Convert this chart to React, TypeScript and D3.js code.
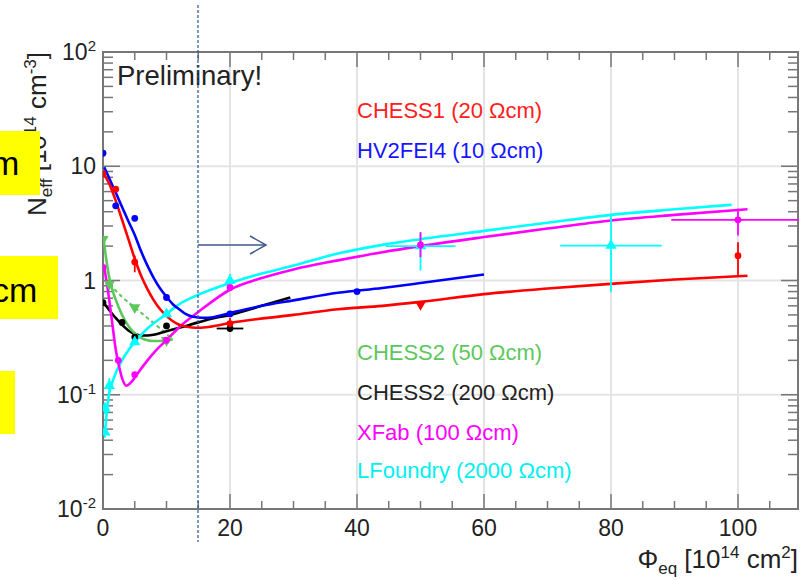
import React from 'react';
import * as d3 from 'd3';

type P = [number, number];
type Pt = { x: number; y: number; lo?: number; hi?: number; xe?: number; m?: string };

// ---------- data ----------
const xTickValues = [0, 20, 40, 60, 80, 100];
const yTickExps = [-2, -1, 0, 1, 2];
const legendLabels = [
  'CHESS1 (20 Ωcm)',
  'HV2FEI4 (10 Ωcm)',
  'CHESS2 (50 Ωcm)',
  'CHESS2 (200 Ωcm)',
  'XFab (100 Ωcm)',
  'LFoundry (2000 Ωcm)',
];
const boxLabels = ['m', 'cm', ''];

const redFit: P[] = [
  [0, 8.8], [1, 7.0], [2, 5.0], [3, 3.4], [4, 2.3], [5, 1.55], [6, 1.1], [7, 0.84], [8, 0.67],
  [9, 0.56], [10, 0.49], [11, 0.44], [12, 0.41], [13, 0.395], [14, 0.388], [15, 0.386],
  [17, 0.395], [20, 0.425], [30, 0.5], [37, 0.56], [44, 0.6], [50, 0.65], [60, 0.76],
  [70, 0.85], [80, 0.935], [90, 1.02], [101.5, 1.1],
];
const blueFit: P[] = [
  [0.2, 9.8], [1, 7.8], [2, 5.9], [3, 4.4], [4, 3.3], [5, 2.5], [6, 1.8], [7, 1.35], [8, 1.05],
  [9, 0.85], [10, 0.72], [11, 0.62], [12, 0.56], [13, 0.51], [14, 0.485], [15, 0.475],
  [16, 0.472], [17, 0.475], [20, 0.52], [25, 0.6], [30, 0.67], [37, 0.78], [44, 0.86],
  [50, 0.95], [60, 1.13],
];
const greenFit: P[] = [
  [0.1, 2.3], [0.5, 1.55], [1, 1.05], [1.5, 0.82], [2, 0.68], [3, 0.5], [4, 0.4], [5, 0.345],
  [6, 0.315], [7, 0.3], [8, 0.295], [9, 0.295], [10, 0.3], [11, 0.305],
];
const greenDash: P[] = [
  [1, 0.93], [3, 0.72], [5, 0.58], [7, 0.47], [9, 0.38], [10.8, 0.31],
];
const blackFit: P[] = [
  [0, 0.65], [1, 0.55], [2, 0.47], [3, 0.41], [4, 0.365], [5, 0.34], [6, 0.33], [7, 0.33],
  [8, 0.335], [10, 0.36], [12, 0.385], [15, 0.43], [17.6, 0.47], [20, 0.5], [25, 0.6], [29.5, 0.71],
];
const magentaFit: P[] = [
  [0.2, 1.3], [0.8, 0.8], [1.4, 0.45], [2, 0.25], [2.5, 0.18], [3, 0.14], [3.7, 0.12],
  [4.5, 0.13], [5.5, 0.155], [7, 0.2], [8.5, 0.25], [10, 0.3], [12, 0.39], [15, 0.53],
  [20, 0.83], [25, 1.05], [30, 1.25], [37, 1.5], [44, 1.77], [50, 2.0], [60, 2.4], [70, 2.85],
  [80, 3.35], [90, 3.75], [101.5, 4.2],
];
const cyanFit: P[] = [
  [0.3, 0.045], [0.6, 0.07], [1, 0.105], [1.5, 0.13], [2, 0.155], [3, 0.2], [4, 0.245],
  [5, 0.29], [7, 0.38], [10, 0.51], [12, 0.62], [15, 0.75], [20, 0.95], [25, 1.15],
  [30, 1.35], [37, 1.72], [44, 2.05], [50, 2.3], [60, 2.72], [70, 3.2], [80, 3.75],
  [90, 4.2], [99, 4.6],
];

const redPts: Pt[] = [
  { x: 0, y: 8.6 }, { x: 2, y: 6.3 }, { x: 5, y: 1.45, lo: 1.18, hi: 1.65 },
  { x: 20, y: 0.42, lo: 0.39, hi: 0.47 }, { x: 50, y: 0.62, m: 'tdown' },
  { x: 100, y: 1.65, lo: 1.1, hi: 2.16 },
];
const bluePts: Pt[] = [
  { x: 0, y: 13 }, { x: 2, y: 4.5 }, { x: 5, y: 3.5 }, { x: 10, y: 0.71 },
  { x: 20, y: 0.51 }, { x: 40, y: 0.8 },
];
const greenPts: Pt[] = [
  { x: 0, y: 2.3 }, { x: 1, y: 0.93 }, { x: 5, y: 0.58 }, { x: 10, y: 0.3 },
];
const blackPts: Pt[] = [
  { x: 0, y: 0.64 }, { x: 3, y: 0.43 }, { x: 5, y: 0.32 }, { x: 10, y: 0.4 },
  { x: 20, y: 0.38, xe: 2.1, lo: 0.36, hi: 0.4 },
];
const magentaPts: Pt[] = [
  { x: 0, y: 1.3 }, { x: 2.4, y: 0.2 }, { x: 5, y: 0.15 }, { x: 10, y: 0.3 },
  { x: 20, y: 0.87 }, { x: 50, y: 2.05, lo: 1.6, hi: 2.65 },
  { x: 100, y: 3.4, lo: 2.48, hi: 4.25, xe: 10.5 },
];
const cyanPts: Pt[] = [
  { x: 0.3, y: 0.047, lo: 0.042, hi: 0.053 }, { x: 0.3, y: 0.076, lo: 0.068, hi: 0.085 },
  { x: 1, y: 0.12, lo: 0.105, hi: 0.14 }, { x: 5, y: 0.29 }, { x: 10, y: 0.51 },
  { x: 20, y: 1.0, lo: 0.87, hi: 1.14 }, { x: 50, y: 2.0, lo: 1.22, hi: 2.6, xe: 5.5 },
  { x: 80, y: 2.02, lo: 0.79, hi: 3.83, xe: 8 },
];

// ---------- layout ----------
const W = 804, H = 580;
const L = 103, R = 798, T = 52, B = 509;
const FONT = '"Liberation Sans", Arial, Helvetica, sans-serif';
const legendX = 357;
const legendY = [118, 158, 360, 400, 440, 478];

const series = [
  { color: '#000000', fit: blackFit, pts: blackPts, marker: 'circle' },
  { color: '#5cc85c', fit: greenFit, pts: greenPts, marker: 'tdown' },
  { color: '#00ffff', fit: cyanFit, pts: cyanPts, marker: 'tup' },
  { color: '#ff00ff', fit: magentaFit, pts: magentaPts, marker: 'circle' },
  { color: '#0000ff', fit: blueFit, pts: bluePts, marker: 'circle' },
  { color: '#ff0000', fit: redFit, pts: redPts, marker: 'circle' },
];
const legendColors = ['#ff2020', '#1515ff', '#5cc85c', '#222222', '#ff00ff', '#00f0f0'];

export default function App() {
  const x = d3.scaleLinear().domain([0, 109.45]).range([L, R]);
  const y = d3.scaleLog().domain([0.01, 100]).range([B, T]);
  const line = d3
    .line<P>()
    .x((d) => x(d[0]))
    .y((d) => y(d[1]))
    .curve(d3.curveMonotoneX);

  const xMinor = d3.range(0, 110, 5);
  const yMinor: number[] = [];
  for (let e = -2; e < 2; e++) for (let k = 1; k < 10; k++) yMinor.push(k * Math.pow(10, e));
  yMinor.push(100);

  const tri = d3.symbol(d3.symbolTriangle, 55)() as string;

  const marker = (p: Pt, kind: string, color: string, key: string) => {
    const cx = x(p.x), cy = y(p.y);
    const k = p.m || kind;
    const els: React.ReactNode[] = [];
    if (p.xe) {
      els.push(<line key={key + 'xe'} x1={x(p.x - p.xe)} x2={x(p.x + p.xe)} y1={cy} y2={cy} stroke={color} strokeWidth={1.8} />);
    }
    if (p.lo !== undefined && p.hi !== undefined) {
      els.push(<line key={key + 'ye'} x1={cx} x2={cx} y1={y(p.lo)} y2={y(p.hi)} stroke={color} strokeWidth={1.8} />);
    }
    if (k === 'circle') {
      els.push(<circle key={key + 'c'} cx={cx} cy={cy} r={3.4} fill={color} />);
    } else if (k === 'tdown') {
      els.push(<path key={key + 't'} d={tri} transform={`translate(${cx},${cy}) rotate(180)`} fill={color} />);
    } else {
      els.push(<path key={key + 't'} d={tri} transform={`translate(${cx},${cy})`} fill={color} />);
    }
    return els;
  };

  const yLabel = (e: number) => {
    if (e === 0) return <tspan>1</tspan>;
    if (e === 1) return <tspan>10</tspan>;
    return (
      <>
        <tspan>10</tspan>
        <tspan dy={-9} fontSize={15}>{e < 0 ? '-' + Math.abs(e) : String(e)}</tspan>
      </>
    );
  };

  return (
    <svg width={W} height={H} style={{ position: 'absolute', left: 0, top: 0, background: '#fff' }} fontFamily={FONT}>
      <defs>
        <clipPath id="plot">
          <rect x={L} y={T} width={R - L} height={B - T} />
        </clipPath>
      </defs>
      <rect x={0} y={0} width={W} height={H} fill="#fff" />

      {/* grid */}
      {xTickValues.filter((v) => v > 0).map((v) => (
        <line key={'gx' + v} x1={x(v)} x2={x(v)} y1={T} y2={B} stroke="#e4e4e4" strokeWidth={2} />
      ))}
      {[0.1, 1, 10].map((v) => (
        <line key={'gy' + v} x1={L} x2={R} y1={y(v)} y2={y(v)} stroke="#e4e4e4" strokeWidth={2} />
      ))}

      {/* frame */}
      <rect x={L} y={T} width={R - L} height={B - T} fill="none" stroke="#777" strokeWidth={2} />

      {/* x ticks */}
      {xMinor.map((v) => {
        const len = v % 20 === 0 ? 15 : 8;
        return (
          <g key={'xt' + v}>
            <line x1={x(v)} x2={x(v)} y1={B} y2={B - len} stroke="#777" strokeWidth={1.5} />
            <line x1={x(v)} x2={x(v)} y1={T} y2={T + len} stroke="#777" strokeWidth={1.5} />
          </g>
        );
      })}
      {/* y ticks */}
      {yMinor.map((v, i) => {
        const major = Math.abs(Math.log10(v) - Math.round(Math.log10(v))) < 1e-9;
        const len = major ? 17 : 10;
        return (
          <g key={'yt' + i}>
            <line x1={L} x2={L + len} y1={y(v)} y2={y(v)} stroke="#777" strokeWidth={1.5} />
            <line x1={R} x2={R - len} y1={y(v)} y2={y(v)} stroke="#777" strokeWidth={1.5} />
          </g>
        );
      })}

      {/* tick labels */}
      {xTickValues.map((v) => (
        <text key={'xl' + v} x={x(v)} y={536} textAnchor="middle" fontSize={23} fill="#222">{v}</text>
      ))}
      {yTickExps.map((e) => (
        <text key={'yl' + e} x={96} y={y(Math.pow(10, e)) + 8} textAnchor="end" fontSize={23} fill="#222">
          {yLabel(e)}
        </text>
      ))}

      {/* axis titles */}
      <text x={798} y={568} textAnchor="end" fontSize={26} fill="#222">
        <tspan>Φ</tspan>
        <tspan dy={6} fontSize={17}>eq</tspan>
        <tspan dy={-6}> [10</tspan>
        <tspan dy={-10} fontSize={17}>14</tspan>
        <tspan dy={10}> cm</tspan>
        <tspan dy={-10} fontSize={17}>2</tspan>
        <tspan dy={10}>]</tspan>
      </text>
      <text transform="translate(46,52) rotate(-90)" textAnchor="end" fontSize={26} fill="#222">
        <tspan>N</tspan>
        <tspan dy={6} fontSize={17}>eff</tspan>
        <tspan dy={-6}> [10</tspan>
        <tspan dy={-10} fontSize={17}>14</tspan>
        <tspan dy={10}> cm</tspan>
        <tspan dy={-10} fontSize={17}>-3</tspan>
        <tspan dy={10}>]</tspan>
      </text>

      <text x={117} y={85} fontSize={27.5} fill="#222">Preliminary!</text>

      {/* data */}
      <g clipPath="url(#plot)">
        <path d={line(greenDash) as string} fill="none" stroke="#5cc85c" strokeWidth={2} strokeDasharray="4 3" />
        {series.map((s, i) => (
          <path key={'f' + i} d={line(s.fit) as string} fill="none" stroke={s.color} strokeWidth={2.6} />
        ))}
        {series.map((s, i) => s.pts.map((p, j) => marker(p, s.marker, s.color, `m${i}-${j}`)))}
      </g>

      {/* legend */}
      {legendLabels.map((t, i) => (
        <text key={'lg' + i} x={legendX} y={legendY[i]} fontSize={22} fill={legendColors[i]}>{t}</text>
      ))}

      {/* annotations: dashed line and arrow */}
      <line x1={198} x2={198} y1={5} y2={542} stroke="#2e5597" strokeWidth={1.2} strokeDasharray="3 2" />
      <line x1={198} x2={265} y1={245} y2={245} stroke="#3c5a8a" strokeWidth={1.5} />
      <polyline points="250,236 266,245 250,254" fill="none" stroke="#3c5a8a" strokeWidth={1.5} />

      {/* yellow boxes (slide overlays, text cut at the left page edge as in the reference) */}
      <rect x={0} y={131} width={40} height={64} fill="#ffff00" />
      <rect x={0} y={256} width={58} height={63} fill="#ffff00" />
      <rect x={0} y={371} width={15} height={63} fill="#ffff00" />
      <svg x={0} y={131} width={40} height={64} overflow="hidden">
        <text x={-9} y={44} fontSize={34} fill="#000">{boxLabels[0]}</text>
      </svg>
      <svg x={0} y={256} width={58} height={63} overflow="hidden">
        <text x={-8} y={46} fontSize={34} fill="#000">{boxLabels[1]}</text>
      </svg>
      <svg x={0} y={371} width={15} height={63} overflow="hidden">
        <text x={-8} y={46} fontSize={34} fill="#000">{boxLabels[2]}</text>
      </svg>
    </svg>
  );
}
